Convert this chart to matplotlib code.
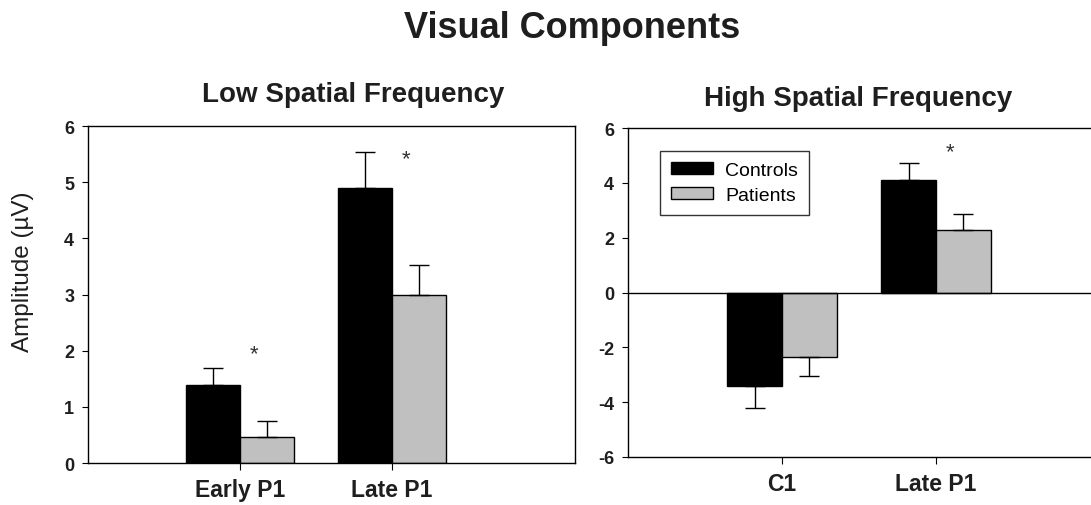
import numpy as np
import matplotlib
matplotlib.use("Agg")
import matplotlib.pyplot as plt

plt.rcParams['font.family'] = ['Liberation Sans', 'DejaVu Sans']
plt.rcParams['axes.unicode_minus'] = False

# data
low_labels = ['Early P1', 'Late P1']
low_controls = [1.39, 4.90]
low_controls_err = [0.31, 0.64]
low_patients = [0.46, 2.99]
low_patients_err = [0.28, 0.53]
low_star = [1.95, 5.41]
low_ticks = [0, 1, 2, 3, 4, 5, 6]

high_labels = ['C1', 'Late P1']
high_controls = [-3.42, 4.09]
high_controls_err = [0.79, 0.62]
high_patients = [-2.37, 2.27]
high_patients_err = [0.68, 0.59]
high_star = [None, 5.15]
high_ticks = [-6, -4, -2, 0, 2, 4, 6]

group_names = ['Controls', 'Patients']
colors = ['black', '#c0c0c0']
txt = '#1e1e1e'


def one_sided(vals, errs):
    """error bar only away from zero"""
    vals = np.array(vals)
    errs = np.array(errs)
    lower = np.where(vals < 0, errs, 0)
    upper = np.where(vals >= 0, errs, 0)
    return [lower, upper]


def draw_panel(ax, labels, controls, c_err, patients, p_err, stars, yticks, title, tpos, tpad):
    x = np.arange(1, len(labels) + 1)
    w = 0.355
    ax.bar(x - w / 2, controls, w, color=colors[0], edgecolor='black', lw=1, label=group_names[0])
    ax.bar(x + w / 2, patients, w, color=colors[1], edgecolor='black', lw=1, label=group_names[1])
    ax.errorbar(x - w / 2, controls, yerr=one_sided(controls, c_err), fmt='none',
                ecolor='black', elinewidth=1, capsize=7, capthick=1)
    ax.errorbar(x + w / 2, patients, yerr=one_sided(patients, p_err), fmt='none',
                ecolor='black', elinewidth=1, capsize=7, capthick=1)
    for xi, s in zip(x, stars):
        if s is not None:
            ax.text(xi + 0.09, s, '*', ha='center', va='center', fontsize=16, color='#333333')
    ax.set_xlim(0, 3.2)
    ax.set_ylim(yticks[0], yticks[-1])
    ax.set_xticks(x, labels=labels, fontsize=16.5, fontweight='bold', color=txt)
    ax.set_yticks(yticks, labels=[str(t) for t in yticks], fontsize=13, fontweight='bold', color=txt)
    ax.tick_params(axis='x', length=5, direction='out', pad=6)
    ax.tick_params(axis='y', length=4, direction='out', pad=6)
    for sp in ax.spines.values():
        sp.set_linewidth(1)
    t = ax.set_title(title, fontsize=20, fontweight='bold', color=txt, pad=tpad)
    t.set_position((tpos, 1.0))


fig = plt.figure(figsize=(10.91, 5.06), dpi=100)

ax1 = fig.add_axes([0.0807, 0.083, 0.446, 0.666])
draw_panel(ax1, low_labels, low_controls, low_controls_err, low_patients, low_patients_err,
           low_star, low_ticks, 'Low Spatial Frequency', 0.545, 18)
ax1.set_ylabel('Amplitude (\u00b5V)', fontsize=17.5, color=txt)
ax1.yaxis.set_label_coords(-0.111, 0.57)

ax2 = fig.add_axes([0.5756, 0.0949, 0.4517, 0.650])
draw_panel(ax2, high_labels, high_controls, high_controls_err, high_patients, high_patients_err,
           high_star, high_ticks, 'High Spatial Frequency', 0.467, 16.5)
ax2.axhline(0, color='black', lw=1)
leg = ax2.legend(loc='upper left', bbox_to_anchor=(0.065, 0.930), borderaxespad=0,
                 fontsize=14, frameon=True, fancybox=False, edgecolor='black',
                 handlelength=2.2, handleheight=0.55, handletextpad=0.6,
                 borderpad=0.55, labelspacing=0.42)
leg.get_frame().set_linewidth(1)

fig.text(0.524, 0.925, 'Visual Components', ha='center', va='baseline',
         fontsize=26, fontweight='bold', color=txt)

fig.savefig('out.png', dpi=100)
